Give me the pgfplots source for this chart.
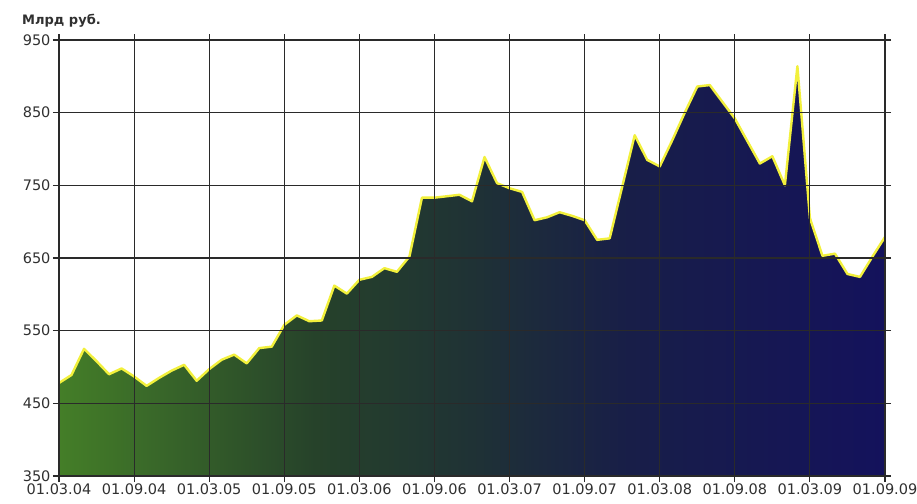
\documentclass[border=0pt]{standalone}
\usepackage{pgfplots}
\usepackage{pgfplotstable}
\pgfplotsset{compat=1.18}
\usepackage{fontspec}
\setmainfont{DejaVu Sans}
\definecolor{gridc}{HTML}{2A2A2A}
\definecolor{lblc}{HTML}{303030}
\definecolor{yel}{HTML}{F2F03C}
\definecolor{c0}{RGB}{68,126,40}
\definecolor{c1}{RGB}{38,66,42}
\definecolor{c2}{RGB}{31,50,53}
\definecolor{c3}{RGB}{24,30,72}
\definecolor{c4}{RGB}{20,18,92}
\pgfdeclarehorizontalshading{areashade}{100bp}{%
  color(0bp)=(c0); color(25bp)=(c0); color(40.5bp)=(c1); color(50bp)=(c2);
  color(59.5bp)=(c3); color(75bp)=(c4); color(100bp)=(c4)}

\pgfplotstableread{
m v
0 478
1 489
2 525
3 508
4 490
5 498
6 487
7 474
8 485
9 495
10 503
11 481
12 497
13 510
14 517
15 505
16 526
17 528
18 558
19 571
20 563
21 564
22 612
23 601
24 620
25 624
26 636
27 631
28 652
29 733
30 733
31 735
32 737
33 728
34 789
35 753
36 746
37 741
38 702
39 706
40 713
41 708
42 702
43 675
44 677
45 748
46 819
47 785
48 776
49 812
50 850
51 886
52 888
53 865
54 842
55 811
56 780
57 790
58 750
59 914
60 705
61 653
62 656
63 628
64 624
65 652
66 679
}\datatable

\begin{document}
\begin{tikzpicture}
\begin{axis}[
  at={(0,0)}, anchor=south west,
  scale only axis, width=826pt, height=436pt,
  xmin=0, xmax=66, ymin=350, ymax=950,
  xtick={0,6,...,66},
  xticklabels={01.03.04,01.09.04,01.03.05,01.09.05,01.03.06,01.09.06,01.03.07,01.09.07,01.03.08,01.09.08,01.03.09,01.09.09},
  ytick={350,450,...,950},
  grid=major,
  major grid style={gridc, line width=1.1pt},
  axis line style={gridc, line width=1.1pt},
  tick style={gridc, line width=1.1pt},
  major tick length=6pt,
  tick align=outside,
  axis on top,
  ticklabel style={font=\fontsize{14.5}{15}\selectfont, text=lblc},
  /pgf/number format/assume math mode=true,
  yticklabel style={/pgf/number format/1000 sep={}, xshift=1pt},
  xticklabel style={yshift=2pt},
]
\addplot[draw=none, shading=areashade] table[x=m, y=v] {\datatable} \closedcycle;
\addplot[yel, line width=2.4pt, line join=round, mark=none] table[x=m, y=v] {\datatable};
\end{axis}
\pgfresetboundingbox
\path[use as bounding box] (-59pt,-27pt) rectangle (858pt,476pt);
\node[anchor=base west, inner sep=0pt, text=lblc, font=\bfseries\fontsize{13}{14}\selectfont] at (-37pt,451pt) {Млрд руб.};
\end{tikzpicture}
\end{document}
